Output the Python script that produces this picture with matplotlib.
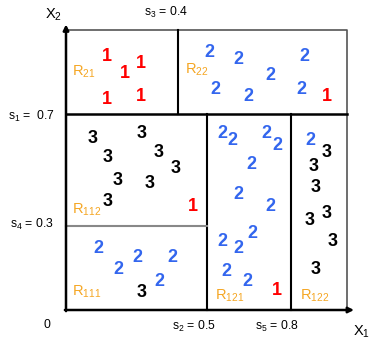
import matplotlib.pyplot as plt

plt.rcParams['font.family'] = 'Liberation Sans'
plt.rcParams['mathtext.fontset'] = 'custom'
plt.rcParams['mathtext.rm'] = 'Liberation Sans'
plt.rcParams['mathtext.it'] = 'Liberation Sans'

# split points of the tree
s1, s2, s3, s4, s5 = 0.7, 0.5, 0.4, 0.3, 0.8

# training points (x1, x2) per class
class1_x = [0.146, 0.210, 0.267, 0.146, 0.267, 0.929, 0.452, 0.751]
class1_y = [0.904, 0.846, 0.882, 0.750, 0.764, 0.764, 0.368, 0.068]

class2_x = [0.509, 0.612, 0.847, 0.726, 0.530, 0.648, 0.836,
            0.555, 0.591, 0.712, 0.751, 0.658, 0.612, 0.726, 0.665, 0.555, 0.612, 0.569, 0.644,
            0.868,
            0.114, 0.185, 0.253, 0.377, 0.331]
class2_y = [0.921, 0.893, 0.907, 0.839, 0.786, 0.761, 0.789,
            0.632, 0.607, 0.632, 0.589, 0.518, 0.411, 0.368, 0.275, 0.243, 0.218, 0.139, 0.100,
            0.607,
            0.221, 0.146, 0.189, 0.189, 0.100]

class3_x = [0.093, 0.270, 0.149, 0.331, 0.391, 0.185, 0.299, 0.149,
            0.270,
            0.929, 0.883, 0.890, 0.929, 0.868, 0.950, 0.890]
class3_y = [0.611, 0.629, 0.546, 0.564, 0.507, 0.461, 0.450, 0.389,
            0.064,
            0.561, 0.511, 0.439, 0.346, 0.321, 0.243, 0.146]

regions = ['21', '22', '112', '111', '121', '122']
region_x = [0.021, 0.423, 0.021, 0.021, 0.530, 0.833]
region_y = [0.850, 0.857, 0.357, 0.064, 0.050, 0.050]

W, H = 371, 339
fig = plt.figure(figsize=(W / 100, H / 100), dpi=100)
ax = fig.add_axes([66 / W, 29 / H, 281 / W, 280 / H])
ax.set_xlim(0, 1)
ax.set_ylim(0, 1)
ax.axis('off')

# outer box
ax.plot([0, 1, 1], [1, 1, 0], color='#555555', lw=1.2, clip_on=False)

# partition lines
ax.plot([0, 1], [s1, s1], color='black', lw=1.8, clip_on=False)
ax.plot([s3, s3], [s1, 1], color='black', lw=1.5, clip_on=False)
ax.plot([s2, s2], [0, s1], color='black', lw=1.5, clip_on=False)
ax.plot([s5, s5], [0, s1], color='black', lw=1.5, clip_on=False)
ax.plot([0, s2], [s4, s4], color='#888888', lw=1.5, clip_on=False)

# axes with arrows
arrow = dict(arrowstyle='-|>', lw=1.8, color='black', mutation_scale=8, shrinkA=0, shrinkB=0)
ax.annotate('', xy=(0, 1.02), xytext=(0, -0.004), arrowprops=arrow, annotation_clip=False)
ax.annotate('', xy=(1.025, 0), xytext=(-0.004, 0), arrowprops=arrow, annotation_clip=False)

# points
for x, y in zip(class1_x, class1_y):
    ax.text(x, y, '1', color='#ff0000', fontsize=13, fontweight='bold', ha='center', va='center')
for x, y in zip(class2_x, class2_y):
    ax.text(x, y, '2', color='#3366ee', fontsize=13, fontweight='bold', ha='center', va='center')
for x, y in zip(class3_x, class3_y):
    ax.text(x, y, '3', color='black', fontsize=13, fontweight='bold', ha='center', va='center')

# region names
for name, x, y in zip(regions, region_x, region_y):
    ax.text(x, y, 'R$_{' + name + '}$', color='#f5a623', fontsize=10.5, ha='left', va='center')

# axis and split labels
ax.text(-0.075, 1.054, 'X$_2$', fontsize=10.5, ha='left', va='center')
ax.text(1.022, -0.079, 'X$_1$', fontsize=10.5, ha='left', va='center')
ax.text(-0.068, -0.054, '0', fontsize=8.8, ha='center', va='center')
ax.text(0.278, 1.064, 's$_3$ = 0.4', fontsize=8.8, ha='left', va='center')
ax.text(-0.206, 0.693, 's$_1$ =  0.7', fontsize=8.8, ha='left', va='center')
ax.text(-0.199, 0.304, 's$_4$ = 0.3', fontsize=8.8, ha='left', va='center')
ax.text(0.377, -0.057, 's$_2$ = 0.5', fontsize=8.8, ha='left', va='center')
ax.text(0.673, -0.057, 's$_5$ = 0.8', fontsize=8.8, ha='left', va='center')

fig.savefig('out.png', dpi=100)
